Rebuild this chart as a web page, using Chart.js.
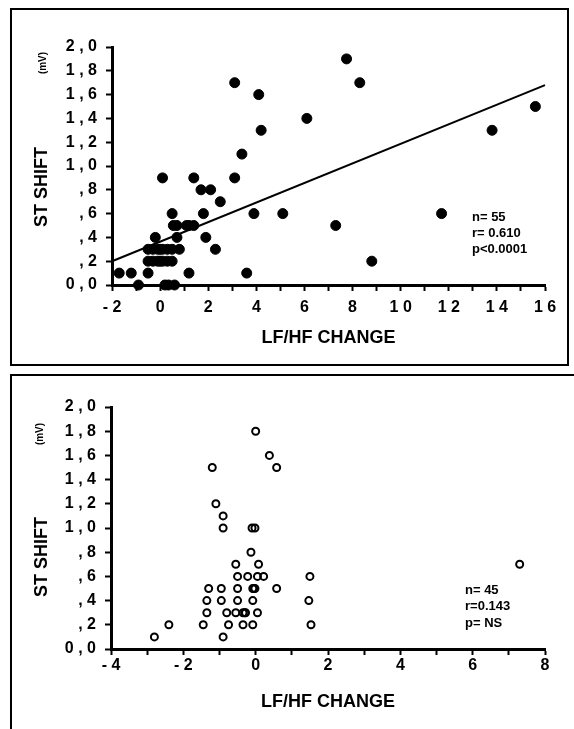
<!DOCTYPE html>
<html>
<head>
<meta charset="utf-8">
<script src="https://cdn.jsdelivr.net/npm/chart.js@4/dist/chart.umd.min.js"></script>
<style>
  html, body { margin: 0; padding: 0; background: #fff; }
  #page { position: relative; width: 574px; height: 729px; overflow: hidden; }
  .box { position: absolute; border: 2px solid #000; box-sizing: border-box; }
  canvas { position: absolute; left: 0; }
</style>
</head>
<body>
<div id="page">
  <div class="box" style="left:10px;top:8px;width:559px;height:358px"></div>
  <div class="box" style="left:10px;top:374px;width:620px;height:420px"></div>
  <canvas id="chart-top" width="574" height="370" style="top:0"></canvas>
  <canvas id="chart-bottom" width="574" height="359" style="top:370px"></canvas>
</div>
<script>
// upper panel: filled dots (n = 55)
const topX = [-1.7, -1.2, -0.9, -0.5, -0.2,
  -0.5, -0.3, -0.1, 0.1, 0.3, 0.5,
  -0.5, -0.3, -0.1, 0.1, 0.3, 0.5,
  0.1, 0.5, 0.55, 0.7, 0.7, 0.8, 0.2, 0.6, 1.2, 1.1, 1.4, 1.4, 1.7,
  2.1, 1.8, 1.9, 2.5, 2.3, 3.1, 3.1, 3.4, 4.1, 4.2, 3.9, 3.6, 5.1,
  6.1, 7.75, 8.3, 7.3, 8.8, 11.7, 13.8, 15.6, 1.2, 0.35, 0.0, 0.0];
const topY = [0.1, 0.1, 0.0, 0.1, 0.4,
  0.3, 0.3, 0.3, 0.3, 0.3, 0.3,
  0.2, 0.2, 0.2, 0.2, 0.2, 0.2,
  0.9, 0.6, 0.5, 0.5, 0.4, 0.3, 0.0, 0.0, 0.1, 0.5, 0.5, 0.9, 0.8,
  0.8, 0.6, 0.4, 0.7, 0.3, 1.7, 0.9, 1.1, 1.6, 1.3, 0.6, 0.1, 0.6,
  1.4, 1.9, 1.7, 0.5, 0.2, 0.6, 1.3, 1.5, 0.5, 0.0, 0.3, 0.2];

// regression line end points
const trendX = [-2, 16];
const trendY = [0.2, 1.68];

// lower panel: open circles (n = 45)
const botX = [-2.8, -2.4, -1.45, -1.35, -1.35, -1.3, -0.95, -0.95, -0.9, -0.8,
  -0.75, -0.55, -0.5, -0.5, -0.5, -0.55, -0.35, -0.28, -0.35, -0.22,
  -0.08, -0.08, -0.08, -0.02, -0.13, -0.1, -0.02, 0.0, 0.05, 0.08,
  0.05, 0.22, 0.38, 0.58, 0.58, -1.2, -1.1, -0.9, -0.9, 1.5,
  1.47, 1.53, 7.3, -0.05, -0.3];
const botY = [0.1, 0.2, 0.2, 0.3, 0.4, 0.5, 0.5, 0.4, 0.1, 0.3,
  0.2, 0.7, 0.6, 0.5, 0.4, 0.3, 0.3, 0.3, 0.2, 0.6,
  0.2, 0.4, 0.5, 0.5, 0.8, 1.0, 1.0, 1.8, 0.3, 0.7,
  0.6, 0.6, 1.6, 1.5, 0.5, 1.5, 1.2, 1.1, 1.0, 0.6,
  0.4, 0.2, 0.7, 0.5, 0.3];

const yTickValues = [0, 0.2, 0.4, 0.6, 0.8, 1.0, 1.2, 1.4, 1.6, 1.8, 2.0];
const yTickLabels = ['0 , 0', ', 2', ', 4', ', 6', ', 8', '1 , 0', '1 , 2', '1 , 4', '1 , 6', '1 , 8', '2 , 0'];
const topXTicks = [-2, 0, 2, 4, 6, 8, 10, 12, 14, 16];
const topXLabels = ['- 2', '0', '2', '4', '6', '8', '1 0', '1 2', '1 4', '1 6'];
const botXTicks = [-4, -2, 0, 2, 4, 6, 8];
const botXLabels = ['- 4', '- 2', '0', '2', '4', '6', '8'];

const yTitle = 'ST SHIFT';
const yUnit = '(mV)';
const xTitle = 'LF/HF CHANGE';
const topNotes = ['n= 55', 'r= 0.610', 'p<0.0001'];
const botNotes = ['n= 45', 'r=0.143', 'p= NS'];

const FONT = '"Liberation Sans", Arial, sans-serif';
Chart.defaults.font.family = FONT;
Chart.defaults.color = '#000';

const pickLabel = (vals, labels) => (v) => {
  const i = vals.findIndex(t => Math.abs(t - v) < 1e-6);
  return i < 0 ? '' : labels[i];
};

// rotated y title, unit and the statistics block
const panelText = {
  id: 'panelText',
  afterDraw(chart, args, o) {
    const ctx = chart.ctx;
    ctx.save();
    ctx.fillStyle = '#000';
    ctx.textBaseline = 'middle';
    ctx.textAlign = 'center';

    ctx.save();
    ctx.translate(o.titleX, o.titleY);
    ctx.rotate(-Math.PI / 2);
    ctx.font = 'bold 18px ' + FONT;
    ctx.fillText(yTitle, 0, 0);
    ctx.restore();

    ctx.save();
    ctx.translate(o.unitX, o.unitY);
    ctx.rotate(-Math.PI / 2);
    ctx.font = 'bold 10px ' + FONT;
    ctx.fillText(yUnit, 0, 0);
    ctx.restore();

    ctx.textAlign = 'left';
    ctx.font = 'bold 13px ' + FONT;
    o.notes.forEach((t, i) => ctx.fillText(t, o.noteX, o.noteY + i * o.noteGap));
    ctx.restore();
  }
};

function makeChart(id, cfg) {
  new Chart(document.getElementById(id), {
    type: 'scatter',
    data: { datasets: cfg.datasets },
    options: {
      responsive: false,
      animation: false,
      layout: { padding: { left: 0, top: cfg.padTop, right: cfg.padRight, bottom: 0 } },
      plugins: {
        legend: { display: false },
        tooltip: { enabled: false },
        panelText: cfg.text
      },
      scales: {
        x: {
          type: 'linear',
          position: 'bottom',
          min: cfg.xMin,
          max: cfg.xMax,
          border: { color: '#000', width: 3 },
          grid: { drawOnChartArea: false, drawTicks: true, tickLength: 6, tickWidth: 2, tickColor: '#000' },
          ticks: {
            stepSize: 1,
            autoSkip: false,
            maxRotation: 0,
            padding: cfg.xTickPad,
            color: '#000',
            font: { size: 16, weight: 'bold' },
            callback: pickLabel(cfg.xTicks, cfg.xLabels)
          },
          title: {
            display: true,
            text: xTitle,
            color: '#000',
            font: { size: 18, weight: 'bold' },
            padding: { top: 0, bottom: cfg.xTitlePad }
          },
          afterFit: (s) => { s.height = cfg.xHeight; }
        },
        y: {
          type: 'linear',
          min: 0,
          max: 2,
          border: { color: '#000', width: 3 },
          grid: { drawOnChartArea: false, drawTicks: true, tickLength: 6, tickWidth: 2, tickColor: '#000' },
          ticks: {
            stepSize: 0.2,
            autoSkip: false,
            padding: 9,
            color: '#000',
            font: { size: 16, weight: 'bold' },
            callback: pickLabel(yTickValues, yTickLabels)
          },
          afterFit: (s) => { s.width = cfg.yWidth; }
        }
      }
    },
    plugins: [panelText]
  });
}

makeChart('chart-top', {
  padTop: 47, padRight: 29, yWidth: 112, xHeight: 85,
  xMin: -2, xMax: 16, xTicks: topXTicks, xLabels: topXLabels,
  xTickPad: 7, xTitlePad: 21,
  text: { titleX: 42, titleY: 187, unitX: 43, unitY: 63, notes: topNotes, noteX: 472, noteY: 217, noteGap: 16 },
  datasets: [
    {
      data: topX.map((x, i) => ({ x, y: topY[i] })),
      pointRadius: 5,
      pointBackgroundColor: '#000',
      pointBorderColor: '#000',
      pointBorderWidth: 1,
      clip: false
    },
    {
      data: trendX.map((x, i) => ({ x, y: trendY[i] })),
      showLine: true,
      borderColor: '#000',
      borderWidth: 2,
      pointRadius: 0,
      clip: false
    }
  ]
});

makeChart('chart-bottom', {
  padTop: 37, padRight: 29, yWidth: 111, xHeight: 80,
  xMin: -4, xMax: 8, xTicks: botXTicks, xLabels: botXLabels,
  xTickPad: 1, xTitlePad: 16,
  text: { titleX: 42, titleY: 187, unitX: 40, unitY: 64, notes: botNotes, noteX: 465, noteY: 220, noteGap: 16.5 },
  datasets: [
    {
      data: botX.map((x, i) => ({ x, y: botY[i] })),
      pointRadius: 3.5,
      pointBackgroundColor: 'rgba(0,0,0,0)',
      pointBorderColor: '#000',
      pointBorderWidth: 2,
      clip: false
    }
  ]
});
</script>
</body>
</html>
